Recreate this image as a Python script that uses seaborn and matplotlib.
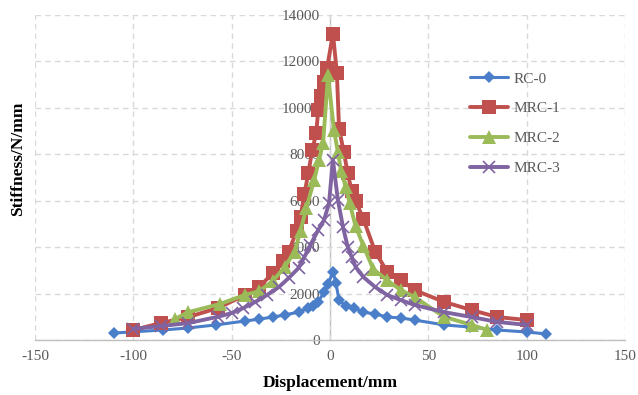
import matplotlib
matplotlib.use("Agg")
import matplotlib.pyplot as plt
import seaborn as sns
import pandas as pd

# ---- data ----
rc0_x = [-110, -85, -72, -58, -43, -36, -29, -23, -16, -11, -8.5, -6, -3, -1, 1.5, 3, 4.6, 8, 12, 17, 23, 29, 36, 43, 58, 71, 85, 100, 110]
rc0_y = [300, 430, 520, 650, 820, 900, 990, 1080, 1200, 1380, 1460, 1640, 2070, 2400, 2950, 2450, 1720, 1460, 1380, 1200, 1120, 990, 950, 860, 650, 560, 430, 345, 260]

mrc1_x = [-100, -86, -72, -57, -43, -36, -29, -24, -21, -17, -15, -13, -11, -9, -7, -6, -4.6, -3, -1.5, 1.5, 3.5, 4.6, 7, 9, 11, 13, 17, 23, 29, 36, 43, 58, 72, 85, 100]
mrc1_y = [430, 730, 990, 1380, 1940, 2280, 2890, 3400, 3800, 4700, 5300, 6300, 7200, 8200, 8900, 9900, 10500, 11100, 11700, 13200, 11500, 9100, 8100, 7200, 6400, 6000, 5200, 3800, 2950, 2580, 2150, 1640, 1290, 990, 860]

mrc2_x = [-79, -72, -56, -43, -36, -29, -23, -18, -15, -12, -8, -5.6, -3.5, -1, 2, 4, 5.6, 8, 10, 13, 17, 22, 29, 36, 43, 58, 72, 80]
mrc2_y = [900, 1200, 1550, 1950, 2100, 2550, 3150, 3800, 4700, 5700, 6900, 7750, 8500, 11400, 9050, 8100, 7300, 6600, 5900, 4900, 4050, 3050, 2580, 2150, 1850, 1000, 650, 430]

mrc3_x = [-100, -86, -72, -57, -50, -44, -38, -32, -26, -21, -16, -13, -10, -6, -3, -0.5, 1.5, 4, 6.6, 9, 11, 13, 17, 23, 29, 36, 43, 58, 72, 85, 100]
mrc3_y = [480, 600, 730, 1000, 1160, 1380, 1640, 1940, 2280, 2670, 3100, 3580, 4090, 4740, 5170, 5900, 7750, 6030, 4870, 4010, 3580, 3150, 2710, 2280, 1940, 1720, 1510, 1200, 990, 780, 650]

series_names = ["RC-0", "MRC-1", "MRC-2", "MRC-3"]
x_ticks = [-150, -100, -50, 0, 50, 100, 150]
y_ticks = [0, 2000, 4000, 6000, 8000, 10000, 12000, 14000]

sns.set_style("white")
plt.rcParams["font.family"] = ["Liberation Serif", "DejaVu Serif"]
plt.rcParams["axes.unicode_minus"] = False

fig = plt.figure(figsize=(6.38, 3.95), dpi=100)
W, H = 638, 395
ax = fig.add_axes([35 / W, (H - 340) / H, 590 / W, 325 / H])

colors = ["#4A7EC8", "#C0504D", "#9BBB59", "#8064A2"]
styles = [
    dict(marker="D", markersize=6.5, linewidth=2.2, markeredgewidth=0),
    dict(marker="s", markersize=9.5, linewidth=2.8, markeredgewidth=0),
    dict(marker="^", markersize=9.5, linewidth=2.8, markeredgewidth=0),
    dict(marker="x", markersize=8, linewidth=2.8, markeredgewidth=1.2),
]
data = [(rc0_x, rc0_y), (mrc1_x, mrc1_y), (mrc2_x, mrc2_y), (mrc3_x, mrc3_y)]

for name, (xs, ys), st, c in zip(series_names, data, styles, colors):
    df = pd.DataFrame({"Displacement": xs, "Stiffness": ys})
    sns.lineplot(data=df, x="Displacement", y="Stiffness", sort=False, estimator=None,
                 ax=ax, label=name, color=c, markeredgecolor=c, markerfacecolor=c,
                 linestyle="-", **st)
for ln in ax.get_lines():
    ln.set_linestyle("-")

ax.set_xlim(-150, 150)
ax.set_ylim(0, 14000)
ax.set_xticks(x_ticks)
ax.set_yticks(y_ticks)
ax.set_xticklabels([str(v) for v in x_ticks])
ax.set_yticklabels([str(v) for v in y_ticks])

ax.grid(True, color="#d9d9d9", linestyle=(0, (4, 3)), linewidth=1.0)
ax.set_axisbelow(True)
for s in ["top", "right"]:
    ax.spines[s].set_visible(False)
ax.spines["left"].set_position(("data", 0))
ax.spines["left"].set_color("#bfbfbf")
ax.spines["bottom"].set_color("#bfbfbf")
ax.spines["left"].set_linewidth(1.0)
ax.spines["bottom"].set_linewidth(1.0)
ax.spines["left"].set_zorder(0.5)

ax.tick_params(axis="x", length=0, pad=7, labelsize=11, labelcolor="#595959")
ax.tick_params(axis="y", length=4, width=1, color="#bfbfbf", pad=3, labelsize=11, labelcolor="#595959")

ax.set_xlabel("")
ax.set_ylabel("")
fig.text(330 / W, 1 - 383 / H, "Displacement/mm", ha="center", va="center",
         fontsize=12.5, fontweight="bold", color="black")
fig.text(18 / W, 1 - 159 / H, "Stiffness/N/mm", ha="center", va="center", rotation=90,
         fontsize=12.5, fontweight="bold", color="black")

leg = ax.legend(loc="upper left", bbox_to_anchor=(470 / W, 1 - 72 / H),
                bbox_transform=fig.transFigure, frameon=False, fontsize=11,
                handlelength=2.5, handletextpad=0.35, labelspacing=1.05, borderpad=0,
                borderaxespad=0)
for t in leg.get_texts():
    t.set_color("#595959")
for h in leg.legend_handles:
    h.set_linestyle("-")

fig.savefig("out.png", dpi=100)
